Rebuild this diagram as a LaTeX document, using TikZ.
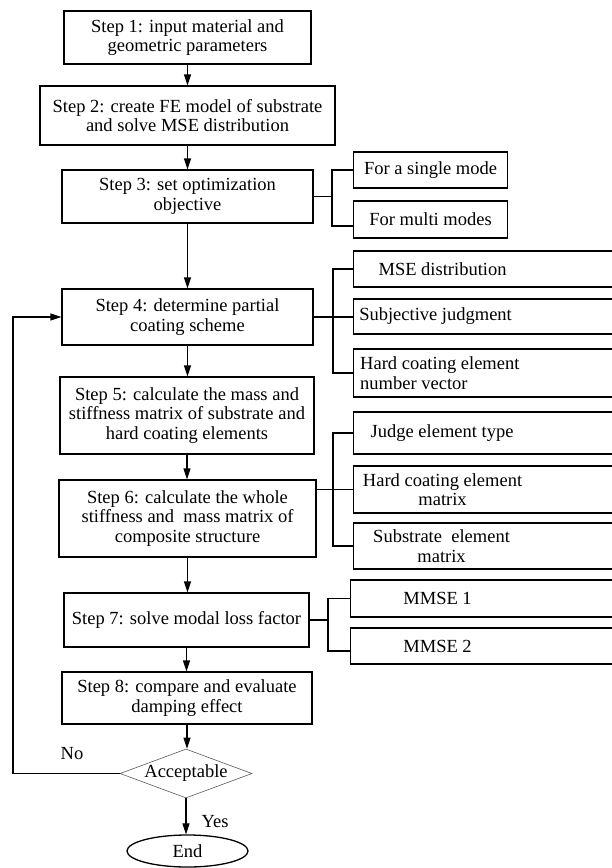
\documentclass[tikz,border=0pt]{standalone}
\usepackage{fontspec}
\setmainfont{Liberation Serif}
\usetikzlibrary{shapes.geometric,arrows.meta}
\begin{document}
\begin{tikzpicture}[x=1pt,y=-1pt,
  every node/.style={font=\fontsize{18.5}{19.5}\selectfont},
  stepbox/.style={draw, line width=1.1pt, align=center, inner sep=1pt},
  rbox/.style={draw, line width=1.1pt, minimum width=280pt, anchor=west, inner sep=0pt},
  rtext/.style={align=center, inner sep=0pt},
  line/.style={line width=1.1pt},
  arr/.style={line width=1.1pt, -{Triangle[length=11pt,width=7pt]}}]
\useasboundingbox (0,0) rectangle (611,868);

% main column
\node[stepbox, minimum width=247pt, minimum height=53pt] (s1) at (187.5,37.5) {Step 1: input material and\\geometric parameters};
\node[stepbox, minimum width=295pt, minimum height=59pt] (s2) at (187.5,115.5) {Step 2: create FE model of substrate\\and solve MSE distribution};
\node[stepbox, minimum width=251pt, minimum height=53pt] (s3) at (187.5,196.5) {Step 3: set optimization\\objective};
\node[stepbox, minimum width=251pt, minimum height=56pt] (s4) at (187.5,317) {Step 4: determine partial\\coating scheme};
\node[stepbox, minimum width=254pt, minimum height=77pt] (s5) at (187,415.5) {Step 5: calculate the mass and\\stiffness matrix of substrate and\\hard coating elements};
\node[stepbox, minimum width=257pt, minimum height=77pt] (s6) at (187.5,518.5) {Step 6: calculate the whole\\stiffness and\ \ mass matrix of\\composite structure};
\node[stepbox, minimum width=245pt, minimum height=54pt] (s7) at (186.5,620) {Step 7: solve modal loss factor};
\node[stepbox, minimum width=250pt, minimum height=52pt] (s8) at (187,698) {Step 8: compare and evaluate\\damping effect};
\node[diamond, shape aspect=2.7, draw=gray!70!black, line width=0.6pt, minimum width=132pt, minimum height=49pt, inner sep=0pt] (dec) at (186,773.5) {Acceptable};
\node[ellipse, draw, line width=1.3pt, minimum width=121pt, minimum height=32pt, inner sep=0pt] (end) at (187.5,851) {End};
\node (no) at (72,754) {No};
\node (yes) at (215,822) {Yes};

% right boxes
\node[stepbox, minimum width=154pt, minimum height=36pt, anchor=west] (r1) at (353,170) {For a single mode};
\node[stepbox, minimum width=154pt, minimum height=37pt, anchor=west] (r2) at (353,219.5) {For multi modes};
\node[rbox, minimum height=36pt, label={[rtext,xshift=-51pt]center:MSE distribution}] (r3) at (353,269) {};
\node[rbox, minimum height=35pt, label={[rtext,xshift=-58pt]center:Subjective judgment}] (r4) at (353,316.5) {};
\node[rbox, minimum height=48pt, label={[rtext,align=left,anchor=west,xshift=7pt]west:Hard coating element\\number vector}] (r5) at (353,373) {};
\node[rbox, minimum height=42pt, label={[rtext,xshift=-51.5pt]center:Judge element type}] (r6) at (353,433) {};
\node[rbox, minimum height=47pt, label={[rtext,xshift=-51pt]center:Hard coating element\\matrix}] (r7) at (353,489.5) {};
\node[rbox, minimum height=46pt, label={[rtext,xshift=-52pt]center:Substrate\ \ element\\matrix}] (r8) at (353,546) {};
\node[rbox, minimum height=37pt, label={[rtext,xshift=-53pt]center:MMSE 1}] (r9) at (350,598.5) {};
\node[rbox, minimum height=36pt, label={[rtext,xshift=-53pt]center:MMSE 2}] (r10) at (350,646) {};

% main arrows
\draw[arr] (s1.south) -- (s1.south |- s2.north);
\draw[arr] (s2.south) -- (s2.south |- s3.north);
\draw[arr] (s3.south) -- (s3.south |- s4.north);
\draw[arr] (s4.south) -- (s4.south |- s5.north);
\draw[arr] (s5.south) -- (s5.south |- s6.north);
\draw[arr] (s6.south) -- (s6.south |- s7.north);
\draw[arr] (s7.south) -- (s7.south |- s8.north);
\draw[arr] (s8.south) -- (s8.south |- dec.north);
\draw[arr] (dec.south) -- (dec.south |- end.north);

% feedback
\coordinate (fb) at (13,773.5);
\draw[arr] (dec.west) -- (fb) |- (s4.west);

% brackets
\coordinate (j3) at (332,196.5);
\draw[line] (s3.east) -- (j3);
\draw[line] (r1.west) -| (j3);
\draw[line] ([yshift=-6.5pt]r2.west) -| (j3);

\coordinate (j4) at (333,317);
\draw[line] (s4.east) -- (s4.east -| r4.west);
\draw[line] (r3.west) -| (j4);
\draw[line] (r5.west) -| (j4);

\coordinate (j6) at (333,489.5);
\draw[line] (s6.east |- r7.west) -- (r7.west);
\draw[line] (r6.west) -| (j6);
\draw[line] (r8.west) -| (j6);

\coordinate (j7) at (328,620);
\draw[line] (s7.east) -- (j7);
\draw[line] (r9.west) -| (j7);
\draw[line] ([yshift=-5pt]r10.west) -| (j7);
\end{tikzpicture}
\end{document}
